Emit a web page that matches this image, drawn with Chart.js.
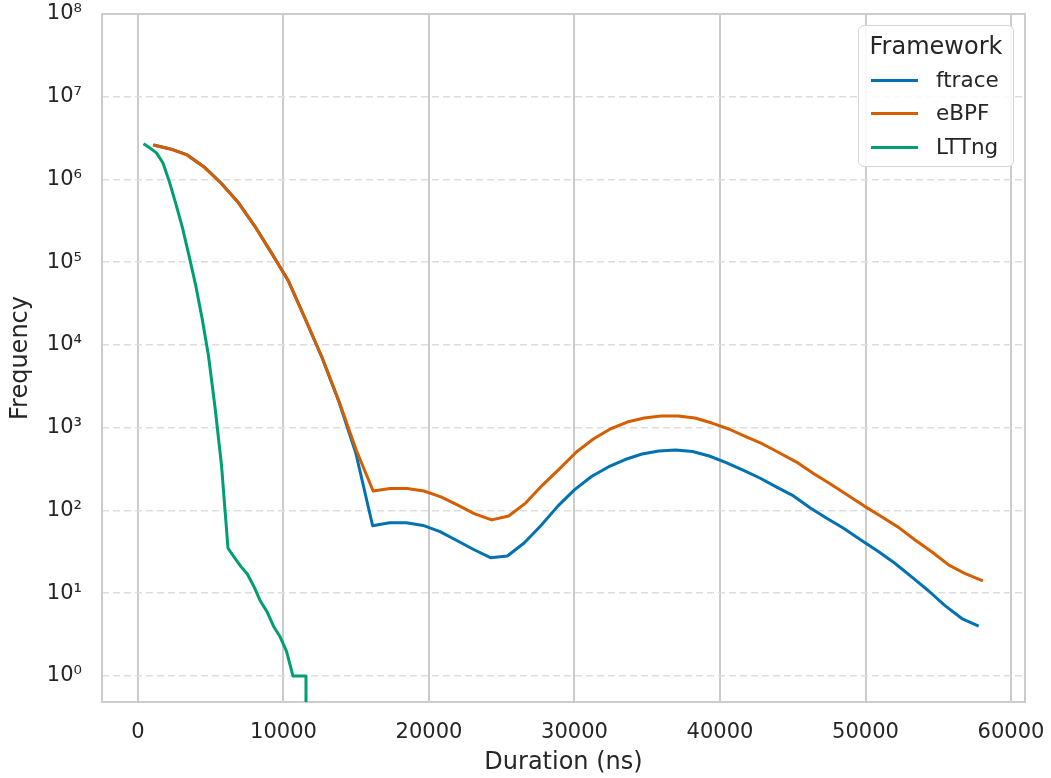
<!DOCTYPE html>
<html>
<head>
<meta charset="utf-8">
<script src="https://cdn.jsdelivr.net/npm/chart.js@4.4.1/dist/chart.umd.min.js"></script>
<style>
  body { margin: 0; background: #fff; }
  #wrap { position: relative; width: 1051px; height: 778px; }
  #legend { position: absolute; left: 858px; top: 25px; width: 156px; height: 142px; box-sizing: border-box;
    border: 1.5px solid #d6d6d6; border-radius: 6px; background: rgba(255,255,255,0.85);
    font-family: "DejaVu Sans", sans-serif; color: #262626; }
  #legend .ttl { position: absolute; left: 0; width: 100%; top: 6px; text-align: center; font-size: 24px; line-height: 28px; }
  #legend .sw { position: absolute; left: 12px; width: 47px; height: 3px; }
  #legend .lb { position: absolute; left: 77px; font-size: 21.5px; line-height: 26px; }
</style>
</head>
<body>
<div id="wrap">
  <canvas id="c"></canvas>
  <div id="legend"></div>
</div>
<script>
// Histogrammes des durées par framework, axe Y logarithmique.
const SERIES = ['ftrace', 'eBPF', 'LTTng'];
const COLORS = ['#0072b2', '#d55e00', '#009e73'];

const ftraceX = [1086, 2243, 3400, 4557, 5714, 6871, 8028, 9185, 10342, 11499, 12656, 13813, 14970, 16127, 17284,
  18441, 19598, 20755, 21912, 23069, 24226, 25383, 26540, 27697, 28854, 30011, 31168, 32325, 33482, 34639, 35796,
  36953, 38110, 39267, 40424, 41581, 42738, 43895, 45052, 46209, 47366, 48523, 49680, 50837, 51994, 53151, 54308,
  55465, 56622, 57779];
const ftraceY = [2.61e6, 2.34e6, 1.98e6, 1.42e6, 9.08e5, 5.35e5, 2.74e5, 1.29e5, 5.93e4, 2.06e4, 6970, 2050, 495, 65.5, 71,
  71, 66, 55.5, 43.4, 33.8, 26.9, 28.2, 40.5, 66, 113, 179, 258, 336, 413, 482, 524,
  538, 516, 456, 380, 308, 247, 192, 150, 107, 80, 60.6, 44, 32.4, 23.2, 15.9, 10.8,
  7.1, 4.95, 4.0];

const ebpfX = [1030, 2194, 3358, 4522, 5686, 6850, 8014, 9178, 10342, 11506, 12670, 13834, 14998, 16162, 17326,
  18490, 19654, 20818, 21982, 23146, 24310, 25474, 26638, 27802, 28966, 30130, 31294, 32458, 33622, 34786, 35950,
  37114, 38278, 39442, 40606, 41770, 42934, 44098, 45262, 46426, 47590, 48754, 49918, 51082, 52246, 53410, 54574,
  55738, 56902, 58066];
const ebpfY = [2.61e6, 2.34e6, 1.98e6, 1.42e6, 9.08e5, 5.35e5, 2.74e5, 1.29e5, 5.93e4, 2.06e4, 6970, 2050, 538, 172, 185,
  185, 172, 146, 116, 91, 77, 86, 123, 203, 318, 509, 731, 966, 1172, 1312, 1387,
  1387, 1312, 1140, 966, 783, 637, 495, 385, 280, 209, 154, 113, 84.5, 63, 44, 31.5,
  21.9, 17.1, 14.1];

const lttngX = [378, 825, 1271, 1718, 2165, 2612, 3058, 3505, 3952, 4398, 4845, 5292, 5738, 6185, 6632,
  7079, 7525, 7972, 8419, 8865, 9312, 9759, 10205, 10652, 11099, 11546, 11993];
const lttngY = [2.7e6, 2.4e6, 2.1e6, 1.58e6, 9.3e5, 5.0e5, 2.6e5, 1.2e5, 5.4e4, 2.14e4, 7400, 1780, 355, 35, 27,
  21, 17, 12, 8, 6, 4, 3, 2, 1, 1, 1, 0];

const X_TICKS = [0, 10000, 20000, 30000, 40000, 50000, 60000];
const Y_TICKS = [1, 10, 100, 1e3, 1e4, 1e5, 1e6, 1e7, 1e8];

const SUP = ['⁰','¹','²','³','⁴','⁵','⁶','⁷','⁸','⁹'];
const TXT = '#262626';
const FONT = '"DejaVu Sans", sans-serif';

// comme matplotlib (nonpositive='clip') : un compte nul part tout droit sous l'axe
const pts = (xs, ys) => xs.map((x, i) => ({ x, y: ys[i] > 0 ? ys[i] : 1e-300 }));

const frame = { id: 'frame', beforeDatasetsDraw(chart) {
  const { ctx, chartArea: a } = chart;
  ctx.save();
  ctx.strokeStyle = '#cccccc';
  ctx.lineWidth = 2;
  ctx.strokeRect(a.left, a.top, a.right - a.left, a.bottom - a.top);
  ctx.restore();
}};

new Chart(document.getElementById('c'), {
  type: 'line',
  data: {
    datasets: [
      { label: SERIES[0], data: pts(ftraceX, ftraceY), borderColor: COLORS[0], order: 3 },
      { label: SERIES[1], data: pts(ebpfX, ebpfY), borderColor: COLORS[1], order: 2 },
      { label: SERIES[2], data: pts(lttngX, lttngY), borderColor: COLORS[2], order: 1 },
    ]
  },
  options: {
    responsive: true,
    maintainAspectRatio: false,
    animation: false,
    elements: {
      line: { borderWidth: 3, tension: 0, borderJoinStyle: 'round', fill: false },
      point: { radius: 0, hoverRadius: 0 }
    },
    layout: { padding: { top: 14, right: 26, left: 0, bottom: 0 } },
    plugins: { legend: { display: false }, tooltip: { enabled: false } },
    scales: {
      x: {
        type: 'linear', min: -2474, max: 60962,
        afterBuildTicks: s => { s.ticks = X_TICKS.map(v => ({ value: v })); },
        // les étiquettes qui débordent ne doivent pas rétrécir la zone de tracé
        afterFit: s => { s.height = 76; s.paddingLeft = 0; s.paddingRight = 0; },
        grid: { color: '#cccccc', lineWidth: 2, drawTicks: false },
        border: { display: false },
        ticks: { padding: 18, color: TXT, font: { family: FONT, size: 21 }, maxRotation: 0, callback: v => String(v) },
        title: { display: true, text: 'Duration (ns)', color: TXT, font: { family: FONT, size: 24 }, padding: { top: 0, bottom: 1 } }
      },
      y: {
        type: 'logarithmic', min: 0.4853, max: 1e8,
        afterBuildTicks: s => { s.ticks = Y_TICKS.map(v => ({ value: v })); },
        afterFit: s => { s.width = 102; s.paddingTop = 0; s.paddingBottom = 0; },
        grid: { color: '#dddddd', lineWidth: 1.6, drawTicks: false },
        border: { display: false, dash: [7, 4] },
        ticks: { padding: 20, color: TXT, font: { family: FONT, size: 21 },
          callback: v => '10' + SUP[Math.round(Math.log10(v))] },
        title: { display: true, text: 'Frequency', color: TXT, font: { family: FONT, size: 24 }, padding: { top: 6, bottom: 0 } }
      }
    }
  },
  plugins: [frame]
});

// Légende façon seaborn, en haut à droite
{ const lg = document.getElementById('legend');
  let html = '<div class="ttl">Framework</div>';
  SERIES.forEach((s, i) => {
    const cy = [54, 87, 121][i];
    html += `<div class="sw" style="top:${cy - 1.5}px;background:${COLORS[i]}"></div>`;
    html += `<div class="lb" style="top:${cy - 13}px">${s}</div>`;
  });
  lg.innerHTML = html; }
</script>
</body>
</html>
